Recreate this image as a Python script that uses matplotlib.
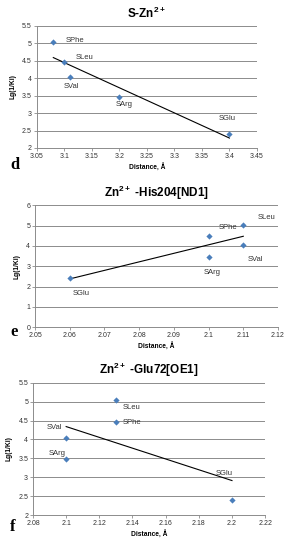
import numpy as np
import matplotlib
matplotlib.use("Agg")
import matplotlib.pyplot as plt

plt.rcParams['font.family'] = ['Liberation Sans', 'DejaVu Sans']
plt.rcParams['mathtext.fontset'] = 'custom'
plt.rcParams['mathtext.bf'] = 'Liberation Sans:bold'

# data
names = ['SPhe', 'SLeu', 'SVal', 'SArg', 'SGlu']
lg_ki = [5.04, 4.46, 4.04, 3.47, 2.41]

# S-Zn2+
dist_d = [3.08, 3.10, 3.11, 3.20, 3.40]
# Zn2+ -His204[ND1]  (labels as printed in the figure)
names_e = ['SPhe', 'SLeu', 'SVal', 'SArg', 'SGlu']
dist_e = [2.10, 2.11, 2.11, 2.10, 2.06]
lg_e = [4.46, 5.04, 4.04, 3.47, 2.41]
# Zn2+ -Glu72[OE1]
names_f = ['SLeu', 'SPhe', 'SVal', 'SArg', 'SGlu']
dist_f = [2.13, 2.13, 2.10, 2.10, 2.20]
lg_f = [5.04, 4.46, 4.04, 3.47, 2.41]

blue = '#4a7ebb'
grid = '#8c8c8c'

fig = plt.figure(figsize=(2.92, 5.5), dpi=100)


def panel(rect, x, y, labels, offs, xlim, xticks, ylim, yticks, title, letter, letter_xy):
    ax = fig.add_axes(rect)
    ax.scatter(x, y, marker='D', s=10, color=blue, zorder=3, linewidths=0)
    # linear trendline
    b1, b0 = np.polyfit(x, y, 1)
    xx = np.array([min(x), max(x)])
    ax.plot(xx, b1 * xx + b0, color='black', lw=0.8, zorder=2)
    for xi, yi, lab, (dx, dy) in zip(x, y, labels, offs):
        ax.annotate(lab, (xi, yi), xytext=(dx, dy), textcoords='offset pixels',
                    ha='left', va='center', fontsize=5.5, color='#333333')
    ax.set_xlim(*xlim)
    ax.set_ylim(*ylim)
    ax.set_xticks(xticks)
    ax.set_xticklabels(['{:g}'.format(v) for v in xticks])
    ax.set_yticks(yticks)
    ax.set_yticklabels(['{:g}'.format(v) for v in yticks])
    ax.yaxis.grid(True, color=grid, lw=0.7)
    ax.set_axisbelow(True)
    for s in ['top', 'right']:
        ax.spines[s].set_visible(False)
    for s in ['left', 'bottom']:
        ax.spines[s].set_color(grid)
        ax.spines[s].set_linewidth(0.7)
    ax.tick_params(labelsize=5, length=2, width=0.6, color=grid, pad=1.5, labelcolor='#333333')
    ax.set_xlabel('Distance, Å', fontsize=4.8, fontweight='bold', labelpad=3)
    ax.set_ylabel('Lg(1/Ki)', fontsize=4.8, fontweight='bold', labelpad=4)
    ax.set_title(title, fontsize=8.5, fontweight='bold', pad=6)
    fig.text(letter_xy[0], letter_xy[1], letter, fontsize=12, fontweight='bold',
             family='Liberation Serif', ha='left', va='center')
    return ax


panel([0.126, 0.731, 0.754, 0.222], dist_d, lg_ki, names,
      [(12, 1), (11, 5), (-6, -10), (-4, -8), (-11, 15)],
      (3.05, 3.45), [3.05, 3.1, 3.15, 3.2, 3.25, 3.3, 3.35, 3.4, 3.45],
      (2, 5.5), [2, 2.5, 3, 3.5, 4, 4.5, 5, 5.5],
      r'S-Zn$^{\mathbf{2+}}$', 'd', (0.035, 1 - 165 / 550))

panel([0.120, 0.405, 0.832, 0.222], dist_e, lg_e, names_e,
      [(10, 9), (14, 7), (4, -14), (-5, -16), (3, -15)],
      (2.05, 2.12), [2.05, 2.06, 2.07, 2.08, 2.09, 2.1, 2.11, 2.12],
      (0, 6), [0, 1, 2, 3, 4, 5, 6],
      r'Zn$^{\mathbf{2+}}$ -His204[ND1]', 'e', (0.035, 1 - 332 / 550))

panel([0.113, 0.0636, 0.795, 0.2404], dist_f, lg_f, names_f,
      [(7, -7), (7, 0), (-19, 10), (-17, 6), (-16, 26)],
      (2.08, 2.22), [2.08, 2.1, 2.12, 2.14, 2.16, 2.18, 2.2, 2.22],
      (2, 5.5), [2, 2.5, 3, 3.5, 4, 4.5, 5, 5.5],
      r'Zn$^{\mathbf{2+}}$ -Glu72[OE1]', 'f', (0.035, 1 - 527 / 550))

fig.savefig('out.png', dpi=100)
